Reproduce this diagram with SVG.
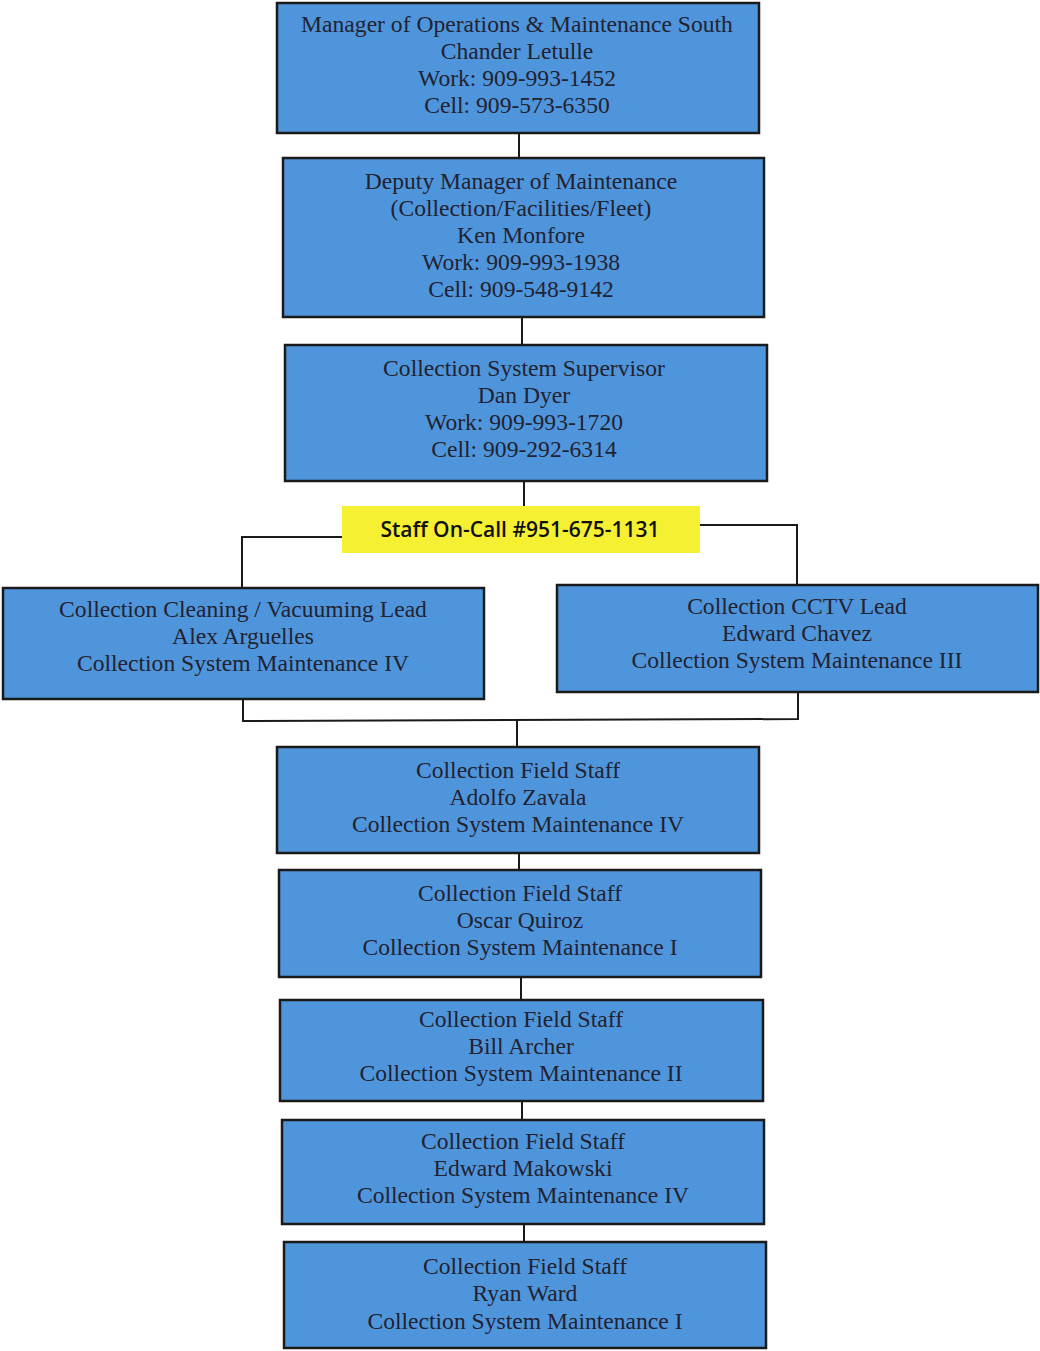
<svg xmlns="http://www.w3.org/2000/svg" width="1040" height="1351" viewBox="0 0 1040 1351">
<style>
.box{fill:#4f95dc;stroke:#1a1a1a;stroke-width:2.5}
.t{font-family:"Liberation Serif","Times New Roman",serif;font-size:23.6px;fill:#222230;text-anchor:middle}
.c{fill:none;stroke:#1a1a1a;stroke-width:2}
.oc{font-family:"Open Sans","Liberation Sans",sans-serif;font-size:21px;font-weight:600;fill:#111;text-anchor:middle}
</style>
<rect width="1040" height="1351" fill="#fff"/>
<g id="connectors">
<line class="c" x1="519" y1="133" x2="519" y2="158"/>
<line class="c" x1="522" y1="317" x2="522" y2="345"/>
<line class="c" x1="524" y1="481" x2="524" y2="506"/>
<polyline class="c" points="342,537 242,537 242,588"/>
<polyline class="c" points="700,525 797,525 797,585"/>
<polyline class="c" points="243,699 243,721 798,719 798,692"/>
<line class="c" x1="517" y1="720" x2="517" y2="747"/>
<line class="c" x1="519" y1="853" x2="519" y2="870"/>
<line class="c" x1="521" y1="977" x2="521" y2="1000"/>
<line class="c" x1="522" y1="1101" x2="522" y2="1120"/>
<line class="c" x1="524" y1="1224" x2="524" y2="1242"/>
</g>
<g id="n1"><rect class="box" x="277" y="3" width="482" height="130"/>
<text class="t" x="517" y="32">Manager of Operations &amp; Maintenance South</text>
<text class="t" x="517" y="59">Chander Letulle</text>
<text class="t" x="517" y="86">Work: 909-993-1452</text>
<text class="t" x="517" y="113">Cell: 909-573-6350</text></g>
<g id="n2"><rect class="box" x="283" y="158" width="481" height="159"/>
<text class="t" x="521" y="189">Deputy Manager of Maintenance</text>
<text class="t" x="521" y="216">(Collection/Facilities/Fleet)</text>
<text class="t" x="521" y="243">Ken Monfore</text>
<text class="t" x="521" y="270">Work: 909-993-1938</text>
<text class="t" x="521" y="297">Cell: 909-548-9142</text></g>
<g id="n3"><rect class="box" x="285" y="345" width="482" height="136"/>
<text class="t" x="524" y="376">Collection System Supervisor</text>
<text class="t" x="524" y="403">Dan Dyer</text>
<text class="t" x="524" y="430">Work: 909-993-1720</text>
<text class="t" x="524" y="457">Cell: 909-292-6314</text></g>
<g id="oncall"><rect x="342" y="506" width="358" height="47" fill="#f5f032"/>
<text class="oc" x="520" y="537">Staff On-Call #951-675-1131</text></g>
<g id="n4"><rect class="box" x="3" y="588" width="481" height="111"/>
<text class="t" x="243" y="617">Collection Cleaning / Vacuuming Lead</text>
<text class="t" x="243" y="644">Alex Arguelles</text>
<text class="t" x="243" y="671">Collection System Maintenance IV</text></g>
<g id="n5"><rect class="box" x="557" y="585" width="481" height="107"/>
<text class="t" x="797" y="614">Collection CCTV Lead</text>
<text class="t" x="797" y="641">Edward Chavez</text>
<text class="t" x="797" y="668">Collection System Maintenance III</text></g>
<g id="n6"><rect class="box" x="277" y="747" width="482" height="106"/>
<text class="t" x="518" y="778">Collection Field Staff</text>
<text class="t" x="518" y="805">Adolfo Zavala</text>
<text class="t" x="518" y="832">Collection System Maintenance IV</text></g>
<g id="n7"><rect class="box" x="279" y="870" width="482" height="107"/>
<text class="t" x="520" y="901">Collection Field Staff</text>
<text class="t" x="520" y="928">Oscar Quiroz</text>
<text class="t" x="520" y="955">Collection System Maintenance I</text></g>
<g id="n8"><rect class="box" x="280" y="1000" width="483" height="101"/>
<text class="t" x="521" y="1027">Collection Field Staff</text>
<text class="t" x="521" y="1054">Bill Archer</text>
<text class="t" x="521" y="1081">Collection System Maintenance II</text></g>
<g id="n9"><rect class="box" x="282" y="1120" width="482" height="104"/>
<text class="t" x="523" y="1149">Collection Field Staff</text>
<text class="t" x="523" y="1176">Edward Makowski</text>
<text class="t" x="523" y="1203">Collection System Maintenance IV</text></g>
<g id="n10"><rect class="box" x="284" y="1242" width="482" height="106"/>
<text class="t" x="525" y="1274">Collection Field Staff</text>
<text class="t" x="525" y="1301">Ryan Ward</text>
<text class="t" x="525" y="1329">Collection System Maintenance I</text></g>
</svg>
